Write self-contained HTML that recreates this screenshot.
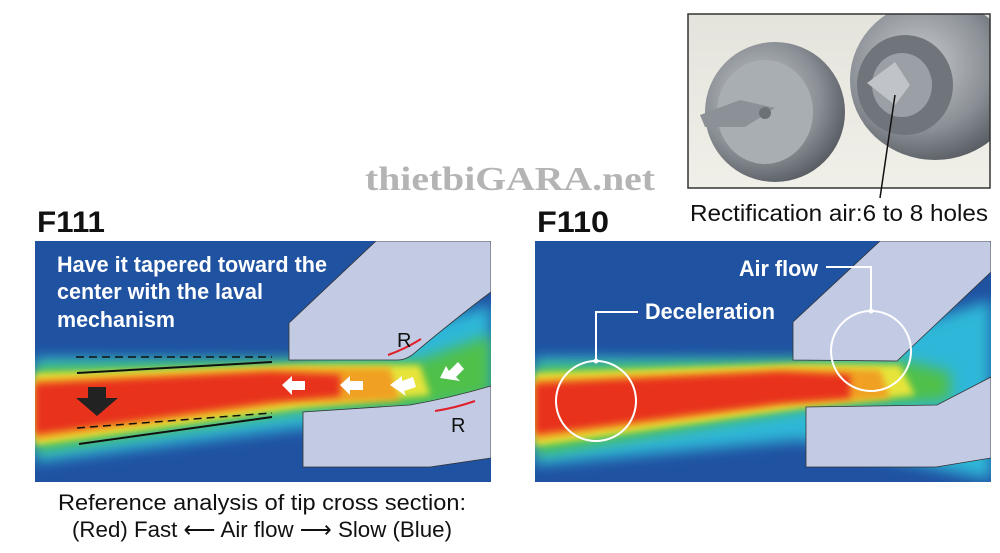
<!DOCTYPE html>
<html><head><meta charset="utf-8"><style>
html,body{margin:0;padding:0;background:#fff;width:1000px;height:553px;overflow:hidden}
svg{display:block}
</style></head><body>
<svg width="1000" height="553" viewBox="0 0 1000 553" xmlns="http://www.w3.org/2000/svg" font-family="Liberation Sans, sans-serif">
<defs>
<filter id="b8" x="-20%" y="-50%" width="140%" height="200%"><feGaussianBlur stdDeviation="7"/></filter>
<filter id="b4" x="-20%" y="-50%" width="140%" height="200%"><feGaussianBlur stdDeviation="3.5"/></filter>
<linearGradient id="photo" x1="0" y1="0" x2="0" y2="1"><stop offset="0" stop-color="#e4e3dc"/><stop offset="1" stop-color="#f0efe8"/></linearGradient>
<radialGradient id="metal" cx="0.4" cy="0.4" r="0.7"><stop offset="0" stop-color="#c8ccd0"/><stop offset="0.6" stop-color="#8a8f95"/><stop offset="1" stop-color="#4a4f55"/></radialGradient>
<clipPath id="cl"><rect x="35" y="241" width="456" height="241"/></clipPath>
<clipPath id="cr"><rect x="535" y="241" width="456" height="241"/></clipPath>
<clipPath id="cp"><rect x="688" y="14" width="302" height="174"/></clipPath>
</defs>

<!-- watermark -->
<text x="365" y="190" style="font-family:'Liberation Serif',serif;font-weight:bold" font-size="34" fill="#b4b4b4" textLength="290" lengthAdjust="spacingAndGlyphs">thietbiGARA.net</text>

<!-- photo -->
<rect x="688" y="14" width="302" height="174" fill="url(#photo)"/>
<g clip-path="url(#cp)">
<ellipse cx="775" cy="112" rx="70" ry="70" fill="url(#metal)"/>
<ellipse cx="765" cy="112" rx="48" ry="52" fill="#a9aeb3"/>
<path d="M700 115 L740 100 L775 108 L745 127 L705 127Z" fill="#8c9197"/>
<circle cx="765" cy="113" r="6" fill="#6c7177"/>
<ellipse cx="935" cy="80" rx="85" ry="80" fill="url(#metal)"/>
<ellipse cx="905" cy="85" rx="48" ry="50" fill="#70757b"/>
<ellipse cx="902" cy="85" rx="30" ry="32" fill="#9aa0a6"/>
<path d="M867 83 L895 62 L910 85 L895 105Z" fill="#c0c4c8"/>
</g>
<rect x="688" y="14" width="302" height="174" fill="none" stroke="#333" stroke-width="1.5"/>
<line x1="895" y1="95" x2="880" y2="198" stroke="#111" stroke-width="1.5"/>
<text x="690" y="221" font-size="23" fill="#111" textLength="298" lengthAdjust="spacingAndGlyphs">Rectification air:6 to 8 holes</text>

<!-- titles -->
<text x="37" y="232" font-size="30" font-weight="bold" fill="#111" textLength="68" lengthAdjust="spacingAndGlyphs">F111</text>
<text x="537" y="232" font-size="30" font-weight="bold" fill="#111" textLength="72" lengthAdjust="spacingAndGlyphs">F110</text>

<!-- LEFT panel -->
<g clip-path="url(#cl)">
<rect x="35" y="241" width="456" height="241" fill="#2052a2"/>
<path d="M35 358 L300 360 L491 305 L491 430 L300 428 L35 462Z" fill="#2fb7d8" filter="url(#b8)"/>
<path d="M35 366 L300 362 L420 360 L491 335 L491 395 L420 408 L300 412 L35 452Z" fill="#4fc04a" filter="url(#b8)"/>
<path d="M35 373 L300 365 L420 365 L430 395 L300 408 L35 445Z" fill="#e6e43a" filter="url(#b4)"/>
<path d="M35 379 L290 368 L390 368 L400 400 L290 404 L35 440Z" fill="#f0a020" filter="url(#b4)"/>
<path d="M35 384 L270 372 L340 375 L340 396 L270 402 L35 434Z" fill="#e8301e" filter="url(#b4)"/>
<path d="M376 241 L491 241 L491 292 C460 315 430 340 412 355 Q405 360 398 360 L289 360 L289 323Z" fill="#c3cbe4" stroke="#333" stroke-width="0.8"/>
<path d="M303 412 L410 405 Q450 398 491 386 L491 458 L430 467 L303 467Z" fill="#c3cbe4" stroke="#333" stroke-width="0.8"/>
</g>
<line x1="76" y1="357" x2="272" y2="357" stroke="#111" stroke-width="1.5" stroke-dasharray="8,5"/>
<line x1="77" y1="373" x2="272" y2="362" stroke="#111" stroke-width="2"/>
<line x1="77" y1="428" x2="272" y2="413" stroke="#111" stroke-width="1.5" stroke-dasharray="8,5"/>
<line x1="79" y1="444" x2="272" y2="417" stroke="#111" stroke-width="2"/>
<path d="M88 387 L106 387 L106 398 L118 398 L97 416 L76 398 L88 398Z" fill="#222"/>
<g fill="#fff">
<path d="M282 385 L292 376 L292 381 L305 381 L305 390 L292 390 L292 395Z"/>
<path d="M340 385 L350 376 L350 381 L363 381 L363 390 L350 390 L350 395Z"/>
<path d="M390 385 L402 376 L402 381 L413 377 L416 387 L404 391 L406 396Z" />
<path d="M440 378 L446 366 L449 371 L458 362 L464 369 L456 377 L460 381Z"/>
</g>
<path d="M388 355 Q405 349 421 339" fill="none" stroke="#e0202a" stroke-width="2"/>
<text x="397" y="347" font-size="20" fill="#111">R</text>
<path d="M435 411 Q455 408 475 401" fill="none" stroke="#e0202a" stroke-width="2"/>
<text x="451" y="432" font-size="20" fill="#111">R</text>
<g font-size="22" font-weight="bold" fill="#fff">
<text x="57" y="272" textLength="270" lengthAdjust="spacingAndGlyphs">Have it tapered toward the</text>
<text x="57" y="299" textLength="206" lengthAdjust="spacingAndGlyphs">center with the laval</text>
<text x="57" y="327" textLength="118" lengthAdjust="spacingAndGlyphs">mechanism</text>
</g>

<!-- RIGHT panel -->
<g clip-path="url(#cr)">
<rect x="535" y="241" width="456" height="241" fill="#2052a2"/>
<path d="M535 358 L800 360 L991 300 L991 480 L800 440 L535 465Z" fill="#2fb7d8" filter="url(#b8)"/>
<path d="M535 366 L800 362 L910 362 L950 372 L950 400 L800 410 L535 455Z" fill="#4fc04a" filter="url(#b8)"/>
<path d="M535 373 L800 364 L900 365 L915 395 L800 408 L535 446Z" fill="#e6e43a" filter="url(#b4)"/>
<path d="M535 379 L790 368 L880 370 L890 398 L790 405 L535 440Z" fill="#f0a020" filter="url(#b4)"/>
<path d="M535 384 L780 372 L850 375 L850 398 L780 403 L535 434Z" fill="#e8301e" filter="url(#b4)"/>
<path d="M880 241 L991 241 L991 272 L897 361 L793 360 L793 322Z" fill="#c3cbe4" stroke="#333" stroke-width="0.8"/>
<path d="M806 407 L937 405 L991 377 L991 458 L936 467 L806 467Z" fill="#c3cbe4" stroke="#333" stroke-width="0.8"/>
</g>
<g fill="none" stroke="#fff" stroke-width="2">
<circle cx="596" cy="401" r="40"/>
<circle cx="871" cy="351" r="40"/>
<polyline points="596,361 596,312 638,312"/>
<polyline points="826,267 871,267 871,311"/>
</g>
<circle cx="596" cy="361" r="2.5" fill="#fff"/><circle cx="871" cy="311" r="2.5" fill="#fff"/>
<text x="645" y="319" font-size="22" font-weight="bold" fill="#fff" textLength="130" lengthAdjust="spacingAndGlyphs">Deceleration</text>
<text x="739" y="276" font-size="22" font-weight="bold" fill="#fff" textLength="79" lengthAdjust="spacingAndGlyphs">Air flow</text>

<!-- caption -->
<text x="58" y="510" font-size="22" fill="#111" textLength="408" lengthAdjust="spacingAndGlyphs">Reference analysis of tip cross section:</text>
<text x="72" y="537" font-size="22" fill="#111" textLength="380" lengthAdjust="spacingAndGlyphs">(Red) Fast ⟵ Air flow ⟶ Slow (Blue)</text>
</svg>
</body></html>
